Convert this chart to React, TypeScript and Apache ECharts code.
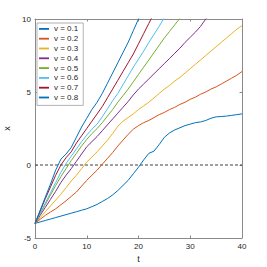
import React, { useEffect, useRef } from "react";
import * as echarts from "echarts";

const T = Array.from({ length: 41 }, (_, i) => i);
const legendNames = ["v = 0.1", "v = 0.2", "v = 0.3", "v = 0.4", "v = 0.5", "v = 0.6", "v = 0.7", "v = 0.8"];
const colors = ["#0072BD", "#D95319", "#EDB120", "#7E2F8E", "#77AC30", "#4DBEEE", "#A2142F", "#0072BD"];

const v01 = [-4, -3.9, -3.8, -3.7, -3.6, -3.5, -3.4, -3.3, -3.2, -3.1, -3.0, -2.85, -2.7, -2.5, -2.3, -2.05, -1.75, -1.4, -1.05, -0.6, -0.15, 0.35, 0.8, 0.95, 1.4, 1.9, 2.2, 2.4, 2.55, 2.7, 2.8, 2.9, 2.95, 3.05, 3.2, 3.3, 3.32, 3.35, 3.4, 3.45, 3.5];
const v02 = [-4, -3.72, -3.45, -3.22, -3.0, -2.72, -2.45, -2.15, -1.85, -1.45, -1.05, -0.7, -0.35, 0.05, 0.45, 0.85, 1.3, 1.7, 2.1, 2.45, 2.7, 2.9, 3.05, 3.25, 3.45, 3.6, 3.8, 3.95, 4.15, 4.3, 4.5, 4.65, 4.85, 5.0, 5.2, 5.35, 5.55, 5.75, 5.95, 6.15, 6.4];
const v03 = [-4, -3.6, -3.2, -2.8, -2.4, -2.0, -1.55, -1.1, -0.7, -0.25, 0.2, 0.55, 0.9, 1.3, 1.7, 2.15, 2.65, 3.0, 3.25, 3.5, 3.8, 4.05, 4.3, 4.6, 4.9, 5.2, 5.45, 5.75, 6.0, 6.3, 6.6, 6.9, 7.2, 7.5, 7.8, 8.1, 8.4, 8.7, 9.0, 9.3, 9.55];
const v04 = [-4, -3.45, -2.9, -2.35, -1.8, -1.2, -0.7, -0.25, 0.25, 0.75, 1.25, 1.6, 1.95, 2.35, 2.75, 3.15, 3.55, 3.95, 4.35, 4.8, 5.2, 5.55, 5.9, 6.25, 6.6, 6.95, 7.3, 7.65, 8.0, 8.4, 8.75, 9.1, 9.5, 10.0, 10.4];
const v05 = [-4, -3.35, -2.7, -2.05, -1.4, -0.8, -0.25, 0.3, 0.8, 1.3, 1.75, 2.15, 2.5, 2.9, 3.35, 3.8, 4.3, 4.75, 5.2, 5.7, 6.2, 6.7, 7.2, 7.7, 8.2, 8.7, 9.15, 9.6, 10.05];
const v06 = [-4, -3.3, -2.6, -1.9, -1.2, -0.5, 0.1, 0.6, 1.1, 1.6, 2.05, 2.45, 2.8, 3.3, 3.85, 4.4, 4.9, 5.5, 6.1, 6.7, 7.25, 7.8, 8.4, 8.95, 9.5, 10.1];
const v07 = [-4, -3.15, -2.3, -1.5, -0.7, 0.0, 0.5, 0.9, 1.5, 2.0, 2.5, 3.0, 3.5, 4.0, 4.6, 5.2, 5.8, 6.4, 7.0, 7.6, 8.3, 9.0, 9.7, 10.4];
const v08 = [-4, -3.1, -2.2, -1.3, -0.35, 0.4, 0.75, 1.2, 1.9, 2.6, 3.2, 3.8, 4.3, 4.9, 5.6, 6.3, 7.0, 7.7, 8.4, 9.2, 10.0, 10.7];
const allSeries = [v01, v02, v03, v04, v05, v06, v07, v08];

const xTicks = { min: 0, max: 40, interval: 10 };
const yTicks = { min: -5, max: 10, interval: 5 };
const refLine = [[0, 0], [40, 0]];

const FONT = "Liberation Sans, Arial, sans-serif";
const AXIS = "#8a8a8a";
const TXT = "#262626";

export default function App() {
  const ref = useRef<HTMLDivElement>(null);
  useEffect(() => {
    if (!ref.current) return;
    const chart = echarts.init(ref.current, null, { renderer: "svg" });
    const axisCommon = {
      axisLine: { show: true, onZero: false, lineStyle: { color: AXIS, width: 1 } },
      axisTick: { show: true, inside: true, length: 2.5, lineStyle: { color: AXIS } },
      splitLine: { show: false },
    };
    chart.setOption({
      animation: false,
      backgroundColor: "#ffffff",
      grid: { left: 35, right: 25, top: 19, bottom: 29, containLabel: false, outerBoundsMode: "none" },
      xAxis: [
        {
          type: "value", ...xTicks, position: "bottom", ...axisCommon,
          axisLabel: { color: TXT, fontSize: 8, fontFamily: FONT, margin: 4 },
          name: "t", nameLocation: "middle", nameGap: 15,
          nameTextStyle: { color: TXT, fontSize: 9, fontFamily: FONT },
        },
        { type: "value", ...xTicks, position: "top", ...axisCommon, axisLabel: { show: false } },
      ],
      yAxis: [
        {
          type: "value", ...yTicks, position: "left", ...axisCommon,
          axisLabel: { color: TXT, fontSize: 8, fontFamily: FONT, margin: 4 },
          name: "x", nameLocation: "middle", nameGap: 20,
          nameTextStyle: { color: TXT, fontSize: 9, fontFamily: FONT },
        },
        { type: "value", ...yTicks, position: "right", ...axisCommon, axisLabel: { show: false } },
      ],
      legend: {
        data: legendNames.map((n) => ({ name: n, icon: "rect" })),
        orient: "vertical",
        left: 37,
        top: 23,
        itemWidth: 10,
        itemHeight: 1.8,
        itemGap: 0,
        padding: [1, 5, 3, 2],
        borderColor: "#a0a0a0",
        borderWidth: 0.8,
        backgroundColor: "#ffffff",
        textStyle: { color: TXT, fontSize: 8, fontFamily: FONT, lineHeight: 9.8 },
      },
      series: [
        {
          type: "line",
          name: "zero",
          data: refLine,
          symbol: "none",
          lineStyle: { color: "#404040", width: 1.2, type: [3, 2] },
          silent: true,
          z: 1,
        },
        ...allSeries.map((vals, k) => ({
          type: "line",
          name: legendNames[k],
          data: vals.map((v, i) => [T[i], v]),
          symbol: "none",
          clip: true,
          color: colors[k],
          lineStyle: { color: colors[k], width: 1 },
          z: 2 + k,
        })),
      ],
    });
    return () => chart.dispose();
  }, []);
  return (
    <div
      ref={ref}
      style={{ position: "fixed", left: 0, top: 0, width: 267, height: 267, background: "#fff" }}
    />
  );
}
